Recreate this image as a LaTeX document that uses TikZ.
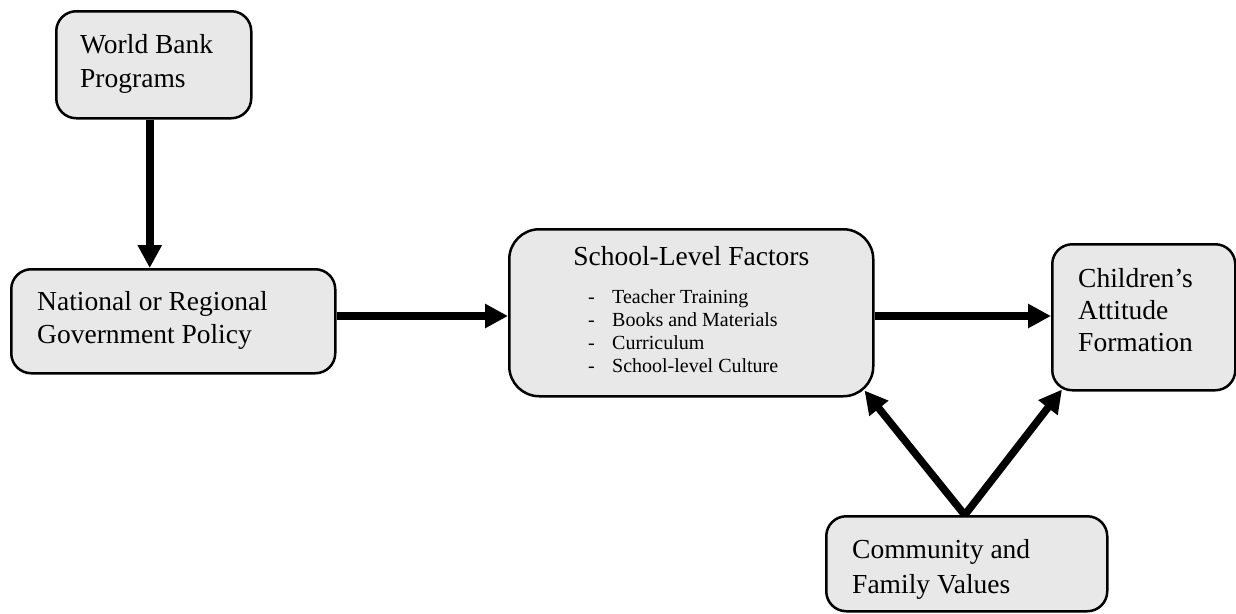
\documentclass[tikz,border=0pt]{standalone}
\usepackage{fontspec}
\setmainfont{Liberation Serif}
\usetikzlibrary{arrows.meta,calc}
\definecolor{boxgray}{HTML}{E8E8E8}
\begin{document}
\begin{tikzpicture}[x=1pt,y=-1pt,
  box/.style={draw=black, line width=2.5pt, fill=boxgray, rounded corners=20pt, inner sep=0pt, anchor=north west},
  txt/.style={anchor=base west, align=left, inner sep=0pt, font=\fontsize{27.5}{33}\selectfont},
  itemtxt/.style={anchor=base west, align=left, inner sep=0pt, font=\fontsize{20}{23}\selectfont},
  conn/.style={line width=7.5pt, -{Triangle[length=23pt,width=23pt]}}]
\path[use as bounding box] (0,0) rectangle (1236,613);

\node[box, minimum width=195pt, minimum height=107pt] (wb) at (55,10) {};
\node[box, minimum width=324pt, minimum height=104pt] (nat) at (10,268) {};
\node[box, minimum width=364pt, minimum height=167pt, rounded corners=30pt] (school) at (508,228) {};
\node[box, minimum width=183pt, minimum height=146pt] (child) at (1051,243) {};
\node[box, minimum width=281pt, minimum height=95pt] (comm) at (825,515) {};

\node[txt, font=\fontsize{27.5}{34}\selectfont] (wbt) at ($(wb.north west)+(25,77)$) {World Bank\\Programs};
\node[txt] (natt) at ($(nat.north west)+(27,75)$) {National or Regional\\Government Policy};
\node[txt, font=\fontsize{27.5}{32}\selectfont] (childt) at ($(child.north west)+(27,108)$) {Children’s\\Attitude\\Formation};
\node[txt, font=\fontsize{27.5}{35}\selectfont] (commt) at ($(comm.north west)+(27,78)$) {Community and\\Family Values};
\node[txt, anchor=base] (schoolt) at ($(school.north)+(0,37)$) {School-Level Factors};
\node[itemtxt] (items) at ($(school.north west)+(80,144)$) {\makebox[24pt][l]{-}Teacher Training\\\makebox[24pt][l]{-}Books and Materials\\\makebox[24pt][l]{-}Curriculum\\\makebox[24pt][l]{-}School-level Culture};

\coordinate (row) at (0,316);
\coordinate (vx) at ($(wb.south)+(-4,0)$);
\draw[conn] (vx) -- (vx |- nat.north);
\draw[conn] (nat.east |- row) -- (school.west |- row);
\draw[conn] (school.east |- row) -- (child.west |- row);
\coordinate (cstart) at ($(comm.north)+(-2,0)$);
\draw[conn] (cstart) -- ($(school.south east)+(-10,-7)$);
\draw[conn] (cstart) -- ($(child.south west)+(11,-2)$);
\end{tikzpicture}
\end{document}
